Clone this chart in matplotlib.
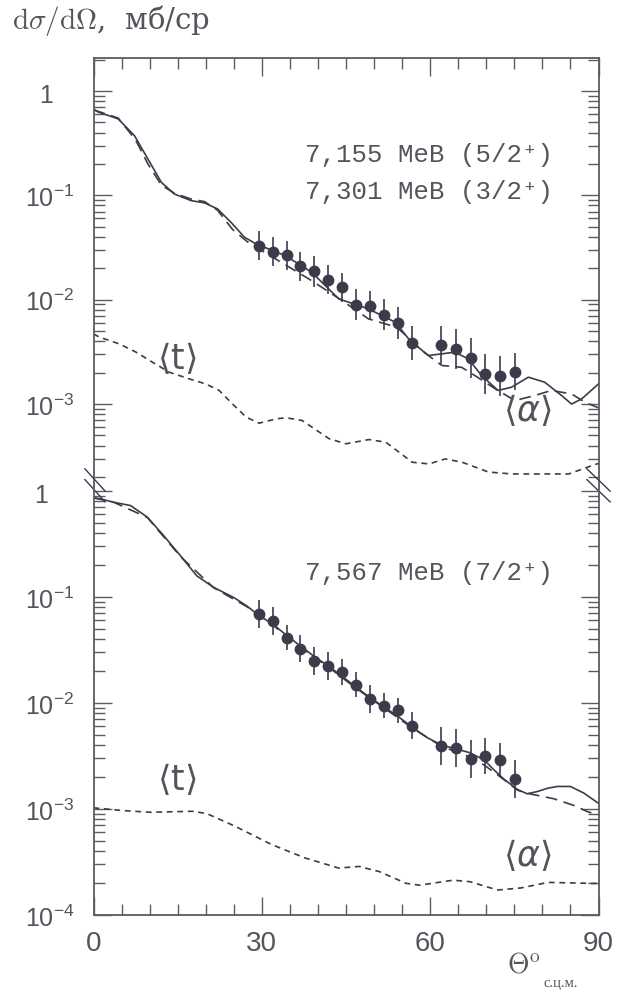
# cross sections, two levels stacked with broken log axis

import matplotlib
matplotlib.use('Agg')
import matplotlib.pyplot as plt
import matplotlib.transforms as mtransforms
import numpy as np
from matplotlib.ticker import LogLocator, MultipleLocator, NullFormatter

plt.rcParams['font.family'] = ['Liberation Sans', 'DejaVu Sans']
plt.rcParams['mathtext.fontset'] = 'custom'
plt.rcParams['mathtext.rm'] = 'Liberation Sans'
plt.rcParams['mathtext.it'] = 'Liberation Sans:italic'

# ---- data ----
# measured points (same angles for both panels)
theta_exp = [29.5, 32.0, 34.4, 36.8, 39.3, 41.8, 44.3, 46.7, 49.2, 51.7,
             54.3, 56.8, 62.0, 64.6, 67.2, 69.7, 72.5, 75.1]

top_exp = [0.0330, 0.0288, 0.0267, 0.0209, 0.0187, 0.0156, 0.0132, 0.00895,
           0.00875, 0.00718, 0.00597, 0.00384, 0.00369, 0.00336, 0.00275,
           0.00194, 0.00186, 0.00205]
top_err = [0.14, 0.14, 0.14, 0.14, 0.15, 0.14, 0.14, 0.15, 0.14, 0.15,
           0.15, 0.16, 0.18, 0.19, 0.19, 0.19, 0.19, 0.18]   # half-length, decades

bot_exp = [0.0686, 0.0593, 0.0413, 0.0325, 0.0248, 0.0222, 0.0195, 0.0149,
           0.0109, 0.00945, 0.00853, 0.00611, 0.00395, 0.00376, 0.00296,
           0.00313, 0.00287, 0.00191]
bot_err = [0.13, 0.13, 0.12, 0.13, 0.13, 0.13, 0.12, 0.12, 0.13, 0.12,
           0.12, 0.13, 0.18, 0.18, 0.18, 0.17, 0.16, 0.18]

# top panel: solid, long dashed, short dashed <t>
top_sol_x = [0, 0.8, 4.4, 7.3, 9.7, 12.1, 14.4, 17.4, 19.8, 22.1, 24.5, 26.9, 29.0,
             34.2, 38.9, 43.7, 49.0, 53.8, 56.4, 59.7, 62.1, 64.4, 66.8, 69.2,
             72.1, 74.5, 77.5, 80.4, 83.4, 85.2, 87.0, 90]
top_sol_y = [0.67, 0.63, 0.54, 0.373, 0.223, 0.133, 0.103, 0.089, 0.0846, 0.0741,
             0.0552, 0.0397, 0.0342, 0.0264, 0.0183, 0.0102, 0.00816, 0.00608,
             0.00406, 0.00292, 0.00303, 0.00314, 0.00271, 0.00187, 0.00135,
             0.00145, 0.00181, 0.00162, 0.00121, 0.00100, 0.00112, 0.00156]

top_dash_x = [0, 4.4, 7.5, 9.7, 12.1, 14.4, 17.4, 19.8, 22.1, 24.8, 27.4, 30.0,
              38.9, 44.3, 49.0, 54.0, 56.4, 58.5, 62.1, 65.6, 68.0, 71.6, 75.1,
              78.7, 81.6, 85.2, 87.6, 90]
top_dash_y = [0.66, 0.55, 0.34, 0.20, 0.125, 0.105, 0.092, 0.087, 0.072, 0.047,
              0.036, 0.0295, 0.0152, 0.0098, 0.00655, 0.00545, 0.00421, 0.00325,
              0.00234, 0.00225, 0.00187, 0.00140, 0.00108, 0.00121, 0.00135,
              0.00125, 0.00104, 0.00092]

top_t_x = [0, 1.1, 4.6, 7.6, 10.5, 13.5, 17.1, 20.0, 22.4, 24.8, 27.2, 29.5,
           32.5, 34.3, 37.2, 42.0, 45.0, 49.1, 52.1, 56.8, 59.8, 62.7, 65.7,
           70.4, 74.6, 80.5, 84.7, 88.2, 90]
top_t_y = [4.7e-3, 4.37e-3, 3.77e-3, 3.14e-3, 2.52e-3, 2.02e-3, 1.74e-3, 1.56e-3,
           1.35e-3, 1.0e-3, 7.5e-4, 6.56e-4, 7.2e-4, 7.4e-4, 6.95e-4, 4.65e-4,
           4.16e-4, 4.57e-4, 4.31e-4, 2.77e-4, 2.67e-4, 2.98e-4, 2.77e-4, 2.23e-4,
           2.14e-4, 2.14e-4, 2.14e-4, 2.5e-4, 2.7e-4]

# bottom panel
bot_sol_x = [0, 1.2, 3.6, 6.6, 9.6, 12.5, 15.5, 18.4, 21.4, 25.0, 27.3, 29.3, 32.0,
             34.5, 37.0, 39.5, 42.0, 44.5, 47.0, 49.5, 52.0, 54.5, 57.0, 59.5,
             62.0, 64.5, 67.0, 69.6, 71.5, 73.2, 75.6, 77.3, 79.1, 81.0, 82.7,
             85.0, 87.4, 90]
bot_sol_y = [0.859, 0.84, 0.78, 0.726, 0.564, 0.378, 0.244, 0.158, 0.123, 0.0986,
             0.0822, 0.068, 0.055, 0.043, 0.034, 0.027, 0.022, 0.0175, 0.0138,
             0.0110, 0.0090, 0.0073, 0.0058, 0.0047, 0.0040, 0.0037, 0.0034,
             0.0029, 0.0023, 0.0019, 0.00152, 0.00139, 0.00146, 0.00157, 0.00163,
             0.00163, 0.00141, 0.00113]

bot_dash_x = [0, 3.6, 9.6, 15.5, 21.4, 27.3, 32.0, 37.0, 42.0, 47.0, 52.0, 57.0,
              62.0, 67.0, 69.6, 72.0, 75.6, 77.7, 82.0, 85.6, 88.1, 90]
bot_dash_y = [0.859, 0.78, 0.56, 0.24, 0.122, 0.081, 0.054, 0.033, 0.0215, 0.0135,
              0.0088, 0.0057, 0.0039, 0.0031, 0.0026, 0.0021, 0.0015, 0.00139,
              0.00125, 0.00108, 0.00094, 0.00088]

bot_t_x = [0, 0.4, 5.2, 10.1, 17.9, 20.3, 25.1, 31.7, 37.7, 43.7, 47.3, 50.9, 55.7,
           58.1, 64.1, 67.1, 72.0, 76.2, 81.0, 88.2, 90]
bot_t_y = [1.03e-3, 1.02e-3, 9.66e-4, 9.31e-4, 9.51e-4, 8.99e-4, 6.92e-4, 4.63e-4,
           3.45e-4, 2.77e-4, 2.87e-4, 2.57e-4, 1.99e-4, 1.91e-4, 2.13e-4, 2.06e-4,
           1.72e-4, 1.80e-4, 2.03e-4, 1.99e-4, 1.98e-4]

top_labels = ['7,155 МеВ (5/2⁺)', '7,301 МеВ (3/2⁺)']
bot_labels = ['7,567 МеВ (7/2⁺)']

# ---- layout ----
W, H = 618, 995
ink = '#3d3b4a'
frame = '#5c5b64'
txt = '#55545c'

fig = plt.figure(figsize=(W / 100, H / 100), dpi=100)
x0, x1 = 93.5, 598.5
y_top, y_brk, y_bot = 59, 487, 916
ax_top = fig.add_axes([x0 / W, 1 - y_brk / H, (x1 - x0) / W, (y_brk - y_top) / H])
ax_bot = fig.add_axes([x0 / W, 1 - y_bot / H, (x1 - x0) / W, (y_bot - y_brk) / H])

ax_top.set_ylim(1.64e-4, 2.07)
ax_bot.set_ylim(1e-4, 1.11)

for ax in (ax_top, ax_bot):
    ax.set_xlim(0, 90)
    ax.set_yscale('log')
    ax.xaxis.set_major_locator(MultipleLocator(30))
    ax.xaxis.set_minor_locator(MultipleLocator(5))
    ax.yaxis.set_minor_locator(LogLocator(base=10, subs=np.arange(2, 10), numticks=20))
    ax.yaxis.set_minor_formatter(NullFormatter())
    ax.tick_params(which='both', direction='in', left=True, right=True,
                   color=frame, width=1.0, labelcolor=txt)
    ax.tick_params(which='major', length=13)
    ax.tick_params(which='minor', length=8)
    ax.tick_params(axis='y', pad=14, labelsize=18)
    ax.tick_params(axis='x', pad=11, labelsize=20)
    for s in ax.spines.values():
        s.set_color(frame)
        s.set_linewidth(1.3)

ax_top.spines['bottom'].set_visible(False)
ax_top.tick_params(axis='x', which='both', bottom=False, top=True, labelbottom=False)
ax_bot.spines['top'].set_visible(False)
ax_bot.tick_params(axis='x', which='both', top=False, bottom=True)

ax_top.set_yticks([1, 1e-1, 1e-2, 1e-3],
                  ['', r'$10^{-1}$', r'$10^{-2}$', r'$10^{-3}$'])
ax_bot.set_yticks([1, 1e-1, 1e-2, 1e-3, 1e-4],
                  ['', r'$10^{-1}$', r'$10^{-2}$', r'$10^{-3}$', r'$10^{-4}$'])
ax_bot.set_xticks([0, 30, 60, 90])

# the "1" labels sit further left than the others
for ax, xpx in ((ax_top, 46), (ax_bot, 41)):
    tr = mtransforms.blended_transform_factory(ax.transAxes, ax.transData)
    ax.text((xpx - x0) / (x1 - x0), 0.92, '1', transform=tr, fontsize=18, color=txt,
            ha='center', va='center')

# curves
ax_top.plot(top_sol_x, top_sol_y, '-', color=ink, lw=1.2)
ax_top.plot(top_dash_x, top_dash_y, color=ink, lw=1.2, dashes=(7, 4))
ax_top.plot(top_t_x, top_t_y, color=ink, lw=1.2, dashes=(3.5, 2.8))
ax_bot.plot(bot_sol_x, bot_sol_y, '-', color=ink, lw=1.2)
ax_bot.plot(bot_dash_x, bot_dash_y, color=ink, lw=1.2, dashes=(7, 4))
ax_bot.plot(bot_t_x, bot_t_y, color=ink, lw=1.2, dashes=(3.5, 2.8))

# data with error bars
for ax, yv, ev in ((ax_top, top_exp, top_err), (ax_bot, bot_exp, bot_err)):
    yv = np.array(yv)
    f = 10 ** np.array(ev)
    ax.errorbar(theta_exp, yv, yerr=[yv - yv / f, yv * f - yv], fmt='o', ms=7.5,
                color=ink, ecolor=ink, elinewidth=1.2, capsize=0, zorder=3)

# axis break marks
for dy in (0.0, -0.025):
    for xa, xb in ((-0.017, 0.023), (0.977, 1.023)):
        ax_bot.plot([xa, xb], [1.04 + dy, 0.988 + dy], color=ink, lw=1.0,
                    transform=ax_bot.transAxes, clip_on=False)

# texts
def fx(px):
    return px / W

def fy(py):
    return 1 - py / H

fig.text(fx(12), fy(21), r'$\mathrm{d}\sigma/\mathrm{d}\Omega$,  мб/ср', fontsize=21,
         family=['DejaVu Serif'], math_fontfamily='cm',
         color=txt, va='center', ha='left')

mono = ['Liberation Mono', 'DejaVu Sans Mono']
fig.text(fx(305), fy(155), top_labels[0], fontsize=18.5, family=mono, color=txt, va='center')
fig.text(fx(305), fy(192), top_labels[1], fontsize=18.5, family=mono, color=txt, va='center')
fig.text(fx(305), fy(573), bot_labels[0], fontsize=18.5, family=mono, color=txt, va='center')

for (px, py, s) in ((177, 358, r'$\langle\mathrm{t}\rangle$'),
                    (527, 410, r'$\langle\alpha\rangle$'),
                    (177, 779, r'$\langle\mathrm{t}\rangle$'),
                    (527, 855, r'$\langle\alpha\rangle$')):
    fig.text(fx(px), fy(py), s, fontsize=25, math_fontfamily='dejavusans',
             color=txt, ha='center', va='center')

fig.text(fx(541), fy(966), r'$\Theta^{\mathrm{o}}$', fontsize=20, math_fontfamily='cm',
         color=txt, ha='right', va='center')
fig.text(fx(544), fy(984), 'с.ц.м.', fontsize=10.5, family=['Liberation Serif'],
         color=txt, ha='left', va='center')

fig.savefig('out.png', dpi=100, facecolor='white')
